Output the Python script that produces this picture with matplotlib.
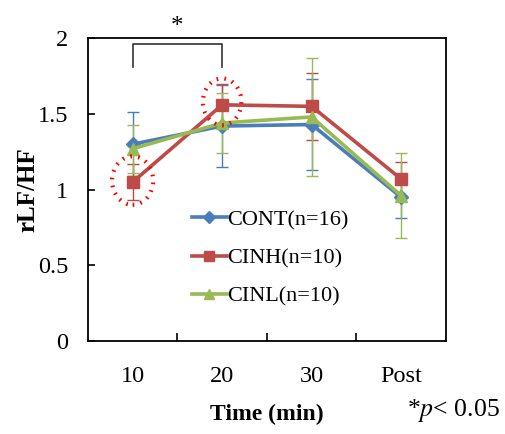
import matplotlib
matplotlib.use("Agg")
import matplotlib.pyplot as plt
from matplotlib.patches import Ellipse
import numpy as np

categories = ["10", "20", "30", "Post"]
cont = [1.30, 1.42, 1.43, 0.95]
cont_err = [0.21, 0.27, 0.30, 0.14]
cinh = [1.05, 1.56, 1.55, 1.07]
cinh_err = [0.12, 0.14, 0.22, 0.11]
cinl = [1.27, 1.44, 1.48, 0.96]
cinl_err = [0.16, 0.20, 0.39, 0.28]
labels = ["CONT(n=16)", "CINH(n=10)", "CINL(n=10)"]

plt.rcParams['font.family'] = ['Liberation Serif', 'DejaVu Serif']
plt.rcParams['mathtext.fontset'] = 'stix'
fig = plt.figure(figsize=(5.05, 4.34), dpi=100)
ax = fig.add_axes([0.174, 0.214, 0.709, 0.698])
x = np.arange(len(categories))

blue = "#4A7EBB"
red = "#BE4B48"
green = "#98B954"

series = [(cont, cont_err, blue, "D", 7), (cinh, cinh_err, red, "s", 9), (cinl, cinl_err, green, "^", 8.5)]
for (vals, errs, col, mk, ms), lab in zip(series, labels):
    ax.errorbar(x, vals, yerr=errs, color=col, ecolor=col, elinewidth=1.0, capsize=4.5,
                capthick=1.0, fmt='none')
for (vals, errs, col, mk, ms), lab in zip(series, labels):
    ax.plot(x, vals, color=col, lw=2.6, marker=mk, ms=ms, label=lab, zorder=3)

ax.set_xlim(-0.5, 3.5)
ax.set_ylim(0, 2)
ax.set_yticks([0, 0.5, 1, 1.5, 2])
ax.set_yticklabels(["0", "0.5", "1", "1.5", "2"])
ax.set_xticks(x)
ax.set_xticklabels(categories)
ax.set_xticks([0.5, 1.5, 2.5], minor=True)
ax.tick_params(axis='x', which='major', length=0, pad=18, labelsize=17.5)
ax.tick_params(axis='x', which='minor', direction='in', length=6, width=1.2)
ax.tick_params(axis='y', direction='in', length=5, width=1.2, labelsize=17.5, pad=14)
for s in ax.spines.values():
    s.set_linewidth(1.3)

ax.set_xlabel("Time (min)", fontsize=17, fontweight='bold', labelpad=12)
ax.set_ylabel("rLF/HF", fontsize=18, fontweight='bold')
ax.yaxis.set_label_coords(-0.135, 0.5)

# bracket
ax.plot([0, 0, 1, 1], [1.81, 1.96, 1.96, 1.81], color="#333333", lw=1.2, clip_on=False)
ax.text(0.5, 2.0, "*", ha='center', va='bottom', fontsize=18)

# dotted circles
for cx, cy, w, h in [(0, 1.06, 0.46, 0.32), (1, 1.58, 0.43, 0.31)]:
    ax.add_patch(Ellipse((cx, cy), w, h, fill=False, ec="#FF0000", lw=3,
                         ls=(0, (0.4, 1.5)), zorder=5))

leg = ax.legend(loc='center left', bbox_to_anchor=(0.29, 0.274), frameon=False,
                fontsize=16, handlelength=1.6, handletextpad=0.0, labelspacing=0.8,
                borderaxespad=0, markerscale=0.85, borderpad=0)

fig.text(0.99, 0.022, r"*$\it{p}$< 0.05", ha='right', va='bottom', fontsize=18.5)

fig.savefig("out.png", dpi=100)
